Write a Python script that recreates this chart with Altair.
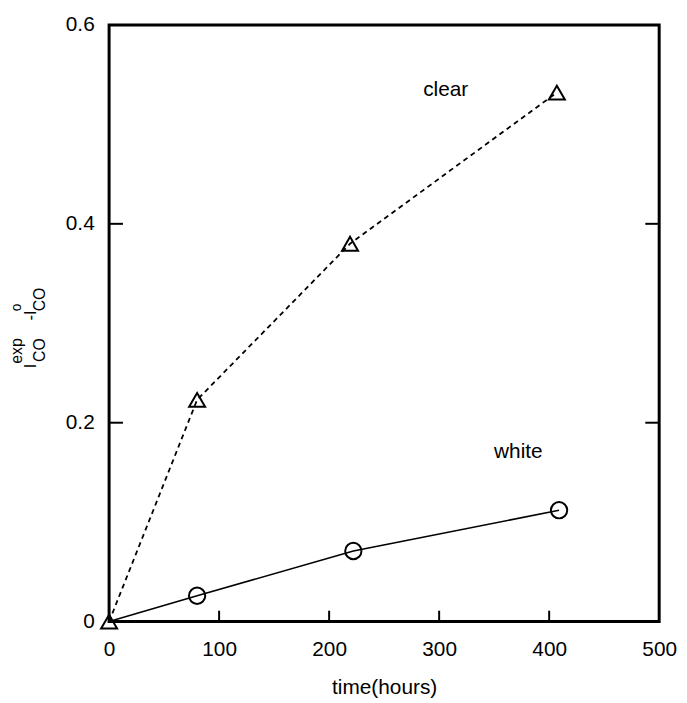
import altair as alt
import pandas as pd

# data
time_clear = [0, 80, 219, 407]
val_clear = [0.0, 0.223, 0.380, 0.532]
time_white = [0, 80, 222, 409]
val_white = [0.0, 0.026, 0.071, 0.112]
white_marker = [False, True, True, True]

x_ticks = [0, 100, 200, 300, 400, 500]
y_ticks = [0, 0.2, 0.4, 0.6]
x_inner_ticks = [100, 200, 300, 400]
y_inner_ticks = [0.2, 0.4]

labels = ["clear", "white"]
label_x = [306, 372]
label_y = [0.535, 0.170]

FONT = "Liberation Sans"
W, H = 555, 602

clear_df = pd.DataFrame({"t": time_clear, "v": val_clear})
white_df = pd.DataFrame({"t": time_white, "v": val_white, "m": white_marker})
lab_df = pd.DataFrame({"label": labels, "t": label_x, "v": label_y})
xt_df = pd.DataFrame({"t": x_inner_ticks})
yt_df = pd.DataFrame({"v": y_inner_ticks})

xs = alt.Scale(domain=[0, 500], nice=False, zero=False)
ys = alt.Scale(domain=[0, 0.6], nice=False, zero=False)

x_axis = alt.Axis(
    values=x_ticks, ticks=False, domain=False, grid=False,
    labelFont=FONT, labelFontSize=21, labelColor="black",
    labelPadding=17, labelFlush=False, labelOverlap=False,
    title="time(hours)", titleFont=FONT, titleFontSize=21,
    titleFontWeight="normal", titleColor="black", titlePadding=18)
y_axis = alt.Axis(
    values=y_ticks, ticks=False, domain=False, grid=False,
    labelFont=FONT, labelFontSize=21, labelColor="black",
    labelPadding=15, labelFlush=False, labelOverlap=False,
    labelExpr="datum.value == 0 ? '0' : format(datum.value, '.1f')",
    title="")

X = lambda: alt.X("t:Q", scale=xs, axis=x_axis)
Y = lambda: alt.Y("v:Q", scale=ys, axis=y_axis)

clear_line = alt.Chart(clear_df).mark_line(
    color="black", strokeWidth=1.8, strokeDash=[5, 4]
).encode(x=X(), y=Y())

clear_pts = alt.Chart(clear_df).mark_point(
    shape="triangle-up", size=260, color="black", strokeWidth=2, filled=False, opacity=1
).encode(x=X(), y=Y())

white_line = alt.Chart(white_df).mark_line(color="black", strokeWidth=1.6).encode(x=X(), y=Y())
white_pts = alt.Chart(white_df).transform_filter("datum.m").mark_point(
    shape="circle", size=270, color="black", strokeWidth=2, filled=False, opacity=1
).encode(x=X(), y=Y())

lab = alt.Chart(lab_df).mark_text(
    font=FONT, fontSize=21, color="black", align="center", baseline="middle"
).encode(x=X(), y=Y(), text="label:N")

xt = alt.Chart(xt_df).mark_rule(color="black", strokeWidth=2).encode(
    x=X(), y=alt.value(H), y2=alt.value(H - 11))
ytl = alt.Chart(yt_df).mark_rule(color="black", strokeWidth=2).encode(
    y=Y(), x=alt.value(0), x2=alt.value(14))
ytr = alt.Chart(yt_df).mark_rule(color="black", strokeWidth=2).encode(
    y=Y(), x=alt.value(W), x2=alt.value(W - 14))

one = pd.DataFrame({"a": [0]})

def ytitle(txt, px, py, size):
    return alt.Chart(one).mark_text(
        font=FONT, fontSize=size, color="black", angle=270,
        align="center", baseline="middle"
    ).encode(x=alt.value(px), y=alt.value(py), text=alt.value(txt))

ttl = [
    ytitle("I", -79, 344, 17),
    ytitle("CO", -70, 328, 16),
    ytitle("exp", -93, 329, 16),
    ytitle("-I", -79, 293, 17),
    ytitle("CO", -70, 277, 16),
    ytitle("o", -93, 285, 14),
]

chart = alt.layer(clear_line, white_line, clear_pts, white_pts, lab, xt, ytl, ytr, *ttl).properties(
    width=W, height=H,
    autosize=alt.AutoSizeParams(type="none"),
    padding={"left": 102, "top": 14, "right": 20, "bottom": 75},
).configure_view(stroke="black", strokeWidth=3)

chart.save("out.html", embed_options={"renderer": "svg", "actions": False})
